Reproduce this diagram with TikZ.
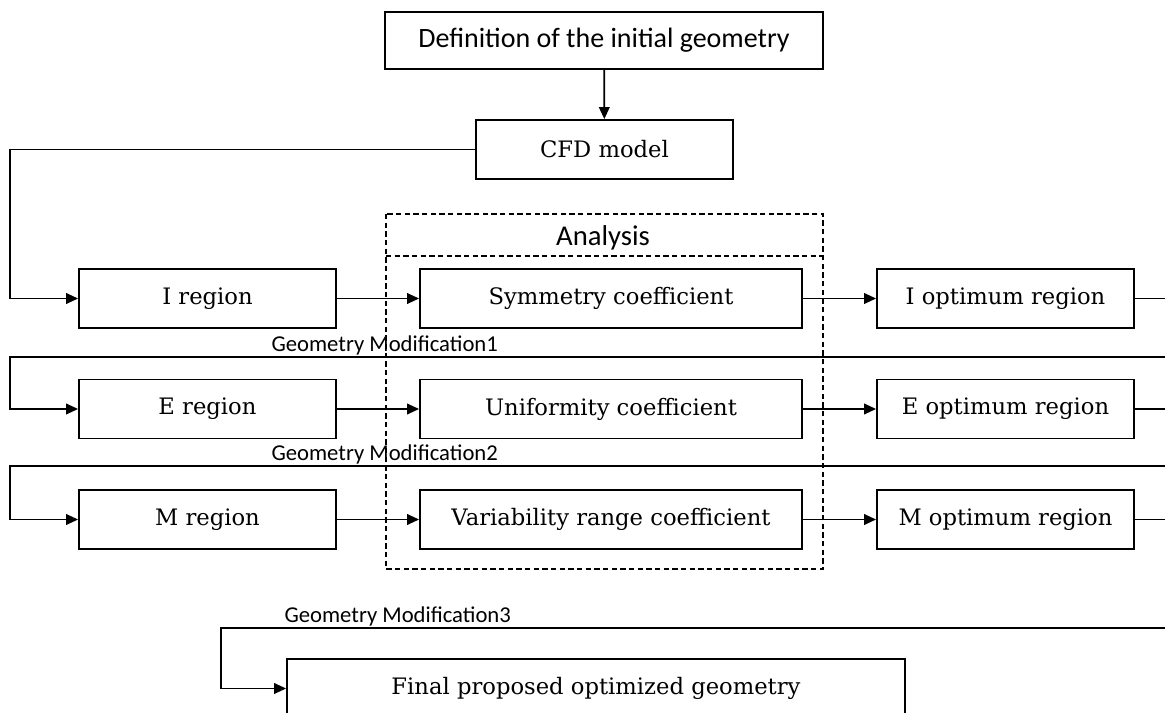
\documentclass[tikz,border=0pt]{standalone}
\usepackage{fontspec}
\setmainfont{DejaVu Serif}
\newfontfamily\labelfont{Carlito}
\usetikzlibrary{arrows.meta}

\begin{document}
\begin{tikzpicture}[x=0.75pt, y=-0.75pt, >={Triangle[length=9pt,width=8pt]},
		box/.style={draw, line width=1.4pt, minimum height=44.25pt, inner sep=0pt, font=\fontsize{17}{19}\selectfont},
		regbox/.style={box, minimum width=192.75pt},
		coefbox/.style={box, minimum width=286.5pt},
		line/.style={line width=1.3pt},
		frame/.style={line width=1.2pt, dash pattern=on 4pt off 2.5pt},
		gmtext/.style={font=\labelfont\fontsize{17}{19}\selectfont, anchor=south west, inner sep=1pt}]
		\useasboundingbox (0,0) rectangle (1165,713);
		\clip (0,0) rectangle (1165,713);

		% Edges of the loops
		\coordinate (lft) at (10,0);
		\coordinate (redge) at (1175,0);

		% Start
		\node[box, minimum width=328.5pt, minimum height=42.75pt, font=\labelfont\fontsize{21}{23}\selectfont] (def) at (604,40.5) {Definition of the initial geometry};
		\node[regbox] (cfd) at (604.5,149.5) {CFD model};
		\draw[->, line] (def) -- (cfd);

		% Analysis frame
		\draw[frame] (386,214) rectangle (823,569);
		\draw[frame] (386,256) -- (823,256);
		\node[font=\labelfont\fontsize{21.5}{23}\selectfont] (anl) at (603,238) {Analysis};

		% I row
		\node[regbox] (ireg) at (207.5,298.5) {I region};
		\node[coefbox] (sym) at (611,298.5) {Symmetry coefficient};
		\node[regbox] (iopt) at (1005.5,298.5) {I optimum region};
		\draw[->, line] (cfd.west) -- (cfd.west -| lft) |- (ireg.west);
		\draw[->, line] (ireg) -- (sym);
		\draw[->, line] (sym) -- (iopt);
		\draw[line] (iopt.east) -- (iopt.east -| redge);

		% E row
		\coordinate (gm1) at (1175,357);
		\node[gmtext] (gm1lbl) at (270,357) {Geometry Modification1};
		\node[regbox] (ereg) at (207.5,409) {E region};
		\node[coefbox] (uni) at (611,409) {Uniformity coefficient};
		\node[regbox] (eopt) at (1005.5,409) {E optimum region};
		\draw[->, line] (gm1) -- (gm1 -| lft) |- (ereg.west);
		\draw[->, line] (ereg) -- (uni);
		\draw[->, line] (uni) -- (eopt);
		\draw[line] (eopt.east) -- (eopt.east -| redge);

		% M row
		\coordinate (gm2) at (1175,466);
		\node[gmtext] (gm2lbl) at (270,466) {Geometry Modification2};
		\node[regbox] (mreg) at (207.5,519.5) {M region};
		\node[coefbox] (var) at (611,519.5) {Variability range coefficient};
		\node[regbox] (mopt) at (1005.5,519.5) {M optimum region};
		\draw[->, line] (gm2) -- (gm2 -| lft) |- (mreg.west);
		\draw[->, line] (mreg) -- (var);
		\draw[->, line] (var) -- (mopt);
		\draw[line] (mopt.east) -- (mopt.east -| redge);

		% Final geometry
		\coordinate (gm3) at (1175,628);
		\coordinate (lft3) at (221,0);
		\node[gmtext] (gm3lbl) at (283,628) {Geometry Modification3};
		\node[box, minimum width=463.5pt] (fin) at (596,688.5) {Final proposed optimized geometry};
		\draw[->, line] (gm3) -- (gm3 -| lft3) |- (fin.west);
	\end{tikzpicture}
\end{document}
